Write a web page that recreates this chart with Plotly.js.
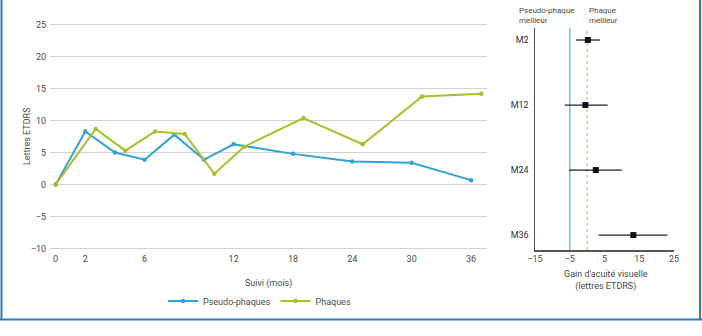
<!DOCTYPE html>
<html>
<head>
<meta charset="utf-8">
<script src="https://cdn.plot.ly/plotly-3.0.1.min.js"></script>
<style>html,body{margin:0;padding:0;background:#fff;}#chart{width:702px;height:336px;}</style>
</head>
<body>
<div id="chart"></div>
<script>
// ---- Data ----
const months = [0, 2, 4, 6, 8, 10, 12, 18, 24, 30, 36];
const pseudoPhaques = [0, 8.3, 5.0, 3.9, 7.8, 3.9, 6.3, 4.8, 3.6, 3.4, 0.7];
const phaques = [0, 8.7, 5.3, 8.3, 7.9, 1.7, 5.9, 10.4, 6.3, 13.75, 14.2];
const tickMonths = [0, 2, 6, 12, 18, 24, 30, 36];

const forestLabels = ['M2', 'M12', 'M24', 'M36'];
const forestGain = [0.2, -0.5, 2.5, 13.3];
const forestLow = [-3.2, -6.4, -5.2, 3.3];
const forestHigh = [3.7, 5.9, 10.0, 23.1];
const marginLine = -5;
const zeroLine = 0;
const forestTicks = [-15, -5, 5, 15, 25];

// ---- Helpers ----
const W = 702, H = 336;
const px = v => v / W, py = v => 1 - v / H;
// visits are plotted as evenly spaced steps (2-month steps to M12, then 3-month steps)
const pos = m => (m <= 12 ? m / 2 : 6 + (m - 12) / 3);
const greenShift = 0.35;

const font = "Roboto, 'DejaVu Sans', sans-serif";
const txt = '#4a4a4a';
const blue = '#2ea3d6';
const green = '#a9bf2c';

const traces = [
  {
    x: months.map(pos), y: pseudoPhaques, name: 'Pseudo-phaques',
    type: 'scatter', mode: 'lines+markers', xaxis: 'x', yaxis: 'y',
    line: {color: blue, width: 2}, marker: {color: blue, size: 4.5}
  },
  {
    x: months.map(m => pos(m) + (m === 0 ? 0 : greenShift)), y: phaques, name: 'Phaques',
    type: 'scatter', mode: 'lines+markers', xaxis: 'x', yaxis: 'y',
    line: {color: green, width: 2}, marker: {color: green, size: 4.5}
  },
  {
    x: forestGain, y: forestLabels, type: 'scatter', mode: 'markers',
    xaxis: 'x2', yaxis: 'y2', showlegend: false,
    marker: {symbol: 'square', color: '#111', size: 6},
    error_x: {
      type: 'data', symmetric: false,
      array: forestHigh.map((h, i) => h - forestGain[i]),
      arrayminus: forestGain.map((g, i) => g - forestLow[i]),
      color: '#222', thickness: 1.3, width: 0
    }
  }
];

const layout = {
  width: W, height: H,
  margin: {l: 0, r: 0, t: 0, b: 0},
  paper_bgcolor: '#fff', plot_bgcolor: 'rgba(0,0,0,0)',
  font: {family: font, size: 9, color: txt},
  showlegend: true,
  legend: {
    orientation: 'h', x: px(163), y: py(301), xanchor: 'left', yanchor: 'middle',
    font: {family: font, size: 9, color: txt}, itemwidth: 30, bgcolor: 'rgba(0,0,0,0)'
  },
  xaxis: {
    domain: [px(50), px(487)], range: [-0.19, 14.54],
    tickvals: tickMonths.map(pos), ticktext: tickMonths.map(String),
    showgrid: false, zeroline: false, showline: false, ticks: '',
    tickfont: {size: 9, color: txt}, anchor: 'y'
  },
  yaxis: {
    domain: [py(252), py(20)], range: [-10.52, 25.7],
    tickvals: [-10, -5, 0, 5, 10, 15, 20, 25],
    showgrid: true, gridcolor: '#d2d2d2', gridwidth: 1.5,
    zeroline: false, showline: false, ticks: '', ticklabelstandoff: 3,
    tickfont: {size: 9, color: txt}, anchor: 'x'
  },
  xaxis2: {
    domain: [px(535), px(674)], range: [-15, 25],
    tickvals: forestTicks, showgrid: false, zeroline: false,
    showline: true, linecolor: '#555', linewidth: 1.5, ticks: '',
    tickfont: {size: 9, color: txt}, anchor: 'y2'
  },
  yaxis2: {
    domain: [py(250), py(28)], range: [3.23, -0.185], type: 'category',
    showgrid: false, zeroline: false, showline: true, linecolor: '#555', linewidth: 1.5,
    ticks: '', ticklabelstandoff: 3,
    tickfont: {size: 9, color: '#333'}, anchor: 'x2'
  },
  shapes: [
    {type: 'line', xref: 'x2', yref: 'y2 domain', x0: marginLine, x1: marginLine, y0: 0, y1: 1,
     line: {color: '#6cc3df', width: 1.5}, layer: 'below'},
    {type: 'line', xref: 'x2', yref: 'y2 domain', x0: zeroLine, x1: zeroLine, y0: 0, y1: 1,
     line: {color: '#cfcf7e', width: 1.5, dash: 'dot'}, layer: 'below'},
    // frame
    {type: 'line', xref: 'paper', yref: 'paper', x0: px(1.5), x1: px(1.5), y0: py(0), y1: py(319.5),
     line: {color: '#2b7bbd', width: 2}},
    {type: 'line', xref: 'paper', yref: 'paper', x0: 0, x1: 1, y0: py(319.5), y1: py(319.5),
     line: {color: '#2b7bbd', width: 2}},
    {type: 'line', xref: 'paper', yref: 'paper', x0: px(700), x1: px(700), y0: py(0), y1: py(319.5),
     line: {color: '#2b7bbd', width: 2}}
  ],
  annotations: [
    {text: 'Lettres ETDRS', xref: 'paper', yref: 'paper', x: px(27), y: py(136),
     textangle: -90, showarrow: false, font: {size: 9, color: txt}, xanchor: 'center', yanchor: 'middle'},
    {text: 'Suivi (mois)', xref: 'paper', yref: 'paper', x: px(268), y: py(283),
     showarrow: false, font: {size: 9, color: txt}, xanchor: 'center', yanchor: 'middle'},
    {text: 'Pseudo-phaque<br>meilleur', xref: 'paper', yref: 'paper', x: px(517), y: py(15.5),
     showarrow: false, align: 'left', xanchor: 'left', yanchor: 'middle',
     font: {size: 8, color: txt}},
    {text: 'Phaque<br>meilleur', xref: 'paper', yref: 'paper', x: px(587), y: py(15.5),
     showarrow: false, align: 'left', xanchor: 'left', yanchor: 'middle',
     font: {size: 8, color: txt}},
    {text: "Gain d'acuité visuelle<br>(lettres ETDRS)", xref: 'paper', yref: 'paper', x: px(606), y: py(280),
     showarrow: false, align: 'center', xanchor: 'center', yanchor: 'middle',
     font: {size: 9, color: txt}}
  ]
};

Plotly.newPlot('chart', traces, layout, {staticPlot: true, displayModeBar: false});
</script>
</body>
</html>
